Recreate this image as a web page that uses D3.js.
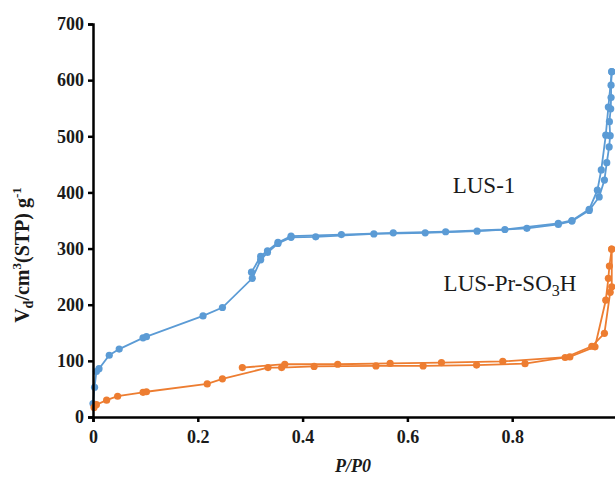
<!DOCTYPE html>
<html>
<head>
<meta charset="utf-8">
<script src="https://cdn.jsdelivr.net/npm/d3@7"></script>
<style>
  body { margin: 0; background: #fff; }
  svg { display: block; }
  .axis path, .axis line { stroke: #000; stroke-width: 2.5; }
  .axis text { font-family: "Liberation Serif", serif; font-weight: bold; font-size: 18px; fill: #1a1a1a; }
  .label { font-family: "Liberation Serif", serif; fill: #1a1a1a; }
</style>
</head>
<body>
<svg id="chart"></svg>
<script>
const SIZE = { width: 615, height: 478 };
const MARGIN = { left: 93, top: 24 };
const WIDTH = 524;
const HEIGHT = 393;

const xTicks = [0, 0.2, 0.4, 0.6, 0.8, 1];
const xLabels = ["0", "0.2", "0.4", "0.6", "0.8", ""];
const yTicks = [0, 100, 200, 300, 400, 500, 600, 700];

// LUS-1 adsorption / desorption [P/P0, V]
const lusAds = [[0, 24], [0.003, 53], [0.0065, 81], [0.0115, 86], [0.031, 110], [0.05, 121],
  [0.0955, 141], [0.102, 143], [0.21, 180], [0.247, 195], [0.304, 247], [0.32, 280],
  [0.333, 293], [0.353, 309], [0.378, 320], [0.425, 321], [0.536, 326], [0.634, 328],
  [0.733, 331], [0.828, 336], [0.888, 343], [0.914, 349], [0.947, 368], [0.966, 392],
  [0.976, 422], [0.9805, 453], [0.985, 481], [0.987, 501], [0.9855, 526], [0.988, 549],
  [0.9887, 569], [0.9887, 591], [0.99, 615]];
const lusDes = [[0.99, 615], [0.9835, 552], [0.9786, 502], [0.97, 440], [0.9626, 404],
  [0.947, 370], [0.914, 350], [0.888, 345], [0.786, 334], [0.673, 330], [0.573, 328],
  [0.474, 325], [0.378, 322], [0.353, 311], [0.333, 296], [0.32, 286], [0.3025, 258]];

// LUS-Pr-SO3H adsorption / desorption
const soAds = [[0.002, 17], [0.0065, 22], [0.026, 30], [0.047, 37], [0.0955, 44], [0.102, 45],
  [0.218, 59], [0.247, 68], [0.334, 88], [0.36, 88], [0.422, 90], [0.54, 91], [0.63, 91],
  [0.732, 92.5], [0.8245, 95], [0.901, 106], [0.952, 126], [0.976, 149], [0.987, 222],
  [0.99, 232], [0.99, 299]];
const soDes = [[0.99, 299], [0.9855, 269], [0.9835, 247], [0.9786, 208], [0.958, 125],
  [0.91, 107], [0.782, 99], [0.665, 97], [0.567, 95.5], [0.467, 94], [0.366, 94], [0.285, 88]];

const series = [
  { name: "LUS-1", color: "#5b9bd5", branches: [lusAds, lusDes] },
  { name: "LUS-Pr-SO3H", color: "#ed7d31", branches: [soAds, soDes] }
];

const svg = d3.select("#chart").attr("width", SIZE.width).attr("height", SIZE.height);

const x = d3.scaleLinear().domain([0, 1]).range([0, WIDTH]);
const y = d3.scaleLinear().domain([0, 700]).range([HEIGHT, 0]);

const g = svg.append("g").attr("transform", `translate(${MARGIN.left},${MARGIN.top})`);

const line = d3.line().x(d => x(d[0])).y(d => y(d[1]));

series.forEach(s => {
  const sg = g.append("g");
  s.branches.forEach(b => {
    sg.append("path")
      .attr("d", line(b))
      .attr("fill", "none")
      .attr("stroke", s.color)
      .attr("stroke-width", 1.8);
    sg.selectAll(null)
      .data(b)
      .enter()
      .append("circle")
      .attr("cx", d => x(d[0]))
      .attr("cy", d => y(d[1]))
      .attr("r", 3.6)
      .attr("fill", s.color);
  });
});

g.append("g")
  .attr("class", "axis")
  .call(d3.axisLeft(y).tickValues(yTicks).tickSize(5).tickPadding(4).tickFormat(d3.format("d")));

g.append("g")
  .attr("class", "axis")
  .attr("transform", `translate(0,${HEIGHT})`)
  .call(d3.axisBottom(x).tickValues(xTicks).tickSize(5).tickPadding(8).tickFormat((d, i) => xLabels[i]));

svg.selectAll(".axis .domain").attr("fill", "none");

svg.append("text")
  .attr("class", "label")
  .attr("x", 353)
  .attr("y", 472)
  .attr("text-anchor", "middle")
  .attr("font-size", 18)
  .attr("font-weight", "bold")
  .attr("font-style", "italic")
  .text("P/P0");

const yt = svg.append("text")
  .attr("class", "label")
  .attr("transform", "translate(29,255) rotate(-90)")
  .attr("text-anchor", "middle")
  .attr("font-size", 20)
  .attr("font-weight", "bold");
yt.append("tspan").text("V");
yt.append("tspan").attr("font-size", 14).attr("dy", 4).text("d");
yt.append("tspan").attr("dy", -4).text("/cm");
yt.append("tspan").attr("font-size", 13).attr("dy", -8).text("3");
yt.append("tspan").attr("dy", 8).text("(STP) g");
yt.append("tspan").attr("font-size", 13).attr("dy", -8).text("-1");

svg.append("text")
  .attr("class", "label")
  .attr("x", 484)
  .attr("y", 193)
  .attr("text-anchor", "middle")
  .attr("font-size", 23)
  .text("LUS-1");

const lt = svg.append("text")
  .attr("class", "label")
  .attr("x", 510)
  .attr("y", 291)
  .attr("text-anchor", "middle")
  .attr("font-size", 23);
lt.append("tspan").text("LUS-Pr-SO");
lt.append("tspan").attr("font-size", 16).attr("dy", 5).text("3");
lt.append("tspan").attr("dy", -5).text("H");
</script>
</body>
</html>
